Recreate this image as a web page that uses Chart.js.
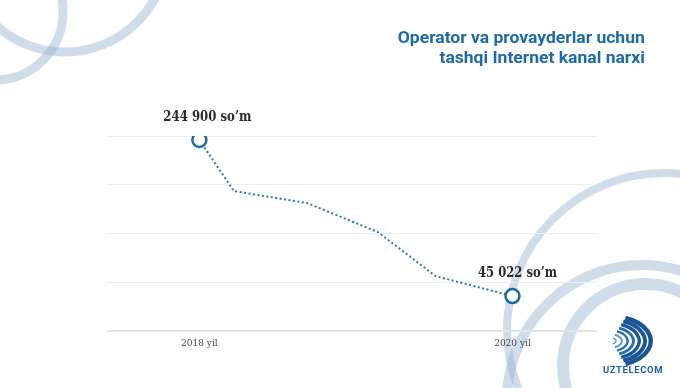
<!DOCTYPE html>
<html>
<head>
<meta charset="utf-8">
<script src="https://cdn.jsdelivr.net/npm/chart.js@4"></script>
<style>
  body { margin: 0; background: #fff; }
  #wrap { position: relative; width: 680px; height: 388px; overflow: hidden; }
  #priceChart { position: absolute; left: 0; top: 0; }
  #title {
    position: absolute; right: 35px; top: 27px;
    font: 700 17px Roboto, sans-serif; line-height: 20px;
    color: #1d6aa6; text-align: right; white-space: nowrap;
    transform-origin: right top;
  }
  #brand {
    position: absolute; left: 600px; top: 364px; width: 66px;
    font: 700 9.5px Roboto, sans-serif; letter-spacing: 0.6px;
    color: #1b5fa5; text-align: center;
  }
</style>
</head>
<body>
<div id="wrap">
  <canvas id="priceChart" width="680" height="388"></canvas>
  <div id="title">Operator va provayderlar uchun<br>tashqi Internet kanal narxi</div>
  <div id="brand">UZTELECOM</div>
</div>
<script>
// Data
const years = [2018, 2018.22, 2018.69, 2019.14, 2019.51, 2020];
const prices = [244900, 179500, 164000, 127000, 70500, 45022];
const pointLabels = ["244 900 so\u2019m", "", "", "", "", "45 022 so\u2019m"];
const tickYears = [2018, 2020];
const tickNames = ["2018 yil", "2020 yil"];

// squeeze the title a bit, the original face is narrower
const titleEl = document.getElementById("title");
const mctx = document.createElement("canvas").getContext("2d");
mctx.font = "700 17px Roboto";
const tw = mctx.measureText("Operator va provayderlar uchun").width;
titleEl.style.transform = `scaleX(${247 / tw})`;

// background rings + logo waves
const decor = {
  id: "decor",
  beforeDraw(chart) {
    const ctx = chart.ctx;
    ctx.save();
    ctx.strokeStyle = "rgba(148,177,206,0.45)";
    const rings = [
      [-5, 12, 68, 9],
      [65, -50, 102, 9],
      [664, 330, 157, 8],
      [642, 400, 135, 10],
      [645, 366, 82, 12]
    ];
    rings.forEach(([x, y, r, w]) => {
      ctx.lineWidth = w;
      ctx.beginPath();
      ctx.arc(x, y, r, 0, Math.PI * 2);
      ctx.stroke();
    });
    // white disk behind the logo
    ctx.fillStyle = "rgba(255,255,255,0.85)";
    ctx.beginPath();
    ctx.arc(645, 366, 75, 0, Math.PI * 2);
    ctx.fill();
    ctx.restore();
  },
  afterDraw(chart) {
    const ctx = chart.ctx;
    ctx.save();
    const cx = 611, cy = 341;
    for (let i = 0; i < 7; i++) {
      const rx = 5 + i * 5.8;
      const ry = rx * 0.62;
      ctx.strokeStyle = i < 2 ? "#5b97cc" : (i < 4 ? "#2a6fb0" : "#1a5696");
      ctx.lineWidth = 1.4 + i * 0.5;
      ctx.beginPath();
      ctx.ellipse(cx, cy, rx, ry, 0, -1.2, 1.2);
      ctx.stroke();
    }
    ctx.restore();
  }
};

// value labels above the end points
const valueLabels = {
  id: "valueLabels",
  afterDatasetsDraw(chart) {
    const ctx = chart.ctx;
    const meta = chart.getDatasetMeta(0);
    const widths = { 0: 88, 5: 79 };
    const shift = { 0: 8, 5: 5 };
    ctx.save();
    ctx.font = "bold 15px 'DejaVu Serif'";
    ctx.fillStyle = "#2b2b2b";
    ctx.textAlign = "center";
    ctx.textBaseline = "middle";
    meta.data.forEach((pt, i) => {
      const txt = pointLabels[i];
      if (!txt) return;
      const w = ctx.measureText(txt).width;
      const sx = widths[i] / w;
      ctx.save();
      ctx.translate(pt.x + shift[i], pt.y - 23);
      ctx.scale(sx, 1);
      ctx.fillText(txt, 0, 0);
      ctx.restore();
    });
    ctx.restore();
  }
};

new Chart(document.getElementById("priceChart"), {
  type: "line",
  data: {
    datasets: [{
      data: years.map((y, i) => ({ x: y, y: prices[i] })),
      borderColor: "#2a78b6",
      borderWidth: 2,
      borderDash: [2, 2.5],
      tension: 0,
      fill: false,
      pointRadius: prices.map((v, i) => (pointLabels[i] ? 7 : 0)),
      pointBorderWidth: 2.5,
      pointBorderColor: "#1a6aa3",
      pointBackgroundColor: "#fff"
    }]
  },
  options: {
    responsive: false,
    animation: false,
    layout: { padding: { top: 136, left: 107, right: 83, bottom: 32 } },
    plugins: { legend: { display: false }, tooltip: { enabled: false } },
    scales: {
      x: {
        type: "linear",
        min: 2017.41,
        max: 2020.54,
        afterBuildTicks(axis) {
          axis.ticks = tickYears.map(v => ({ value: v }));
        },
        ticks: {
          padding: 7,
          color: "#444",
          font: { family: "'DejaVu Serif'", size: 9 },
          callback: v => tickNames[tickYears.indexOf(v)],
          maxRotation: 0
        },
        grid: { display: false, drawTicks: false },
        border: { display: false }
      },
      y: {
        min: 0,
        max: 250000,
        ticks: { display: false, stepSize: 62500 },
        grid: {
          drawTicks: false,
          color: c => (c.tick.value === 0 ? "#e3e3e3" : "#efefef"),
          lineWidth: c => (c.tick.value === 0 ? 2 : 1)
        },
        border: { display: false }
      }
    }
  },
  plugins: [decor, valueLabels]
});
</script>
</body>
</html>
